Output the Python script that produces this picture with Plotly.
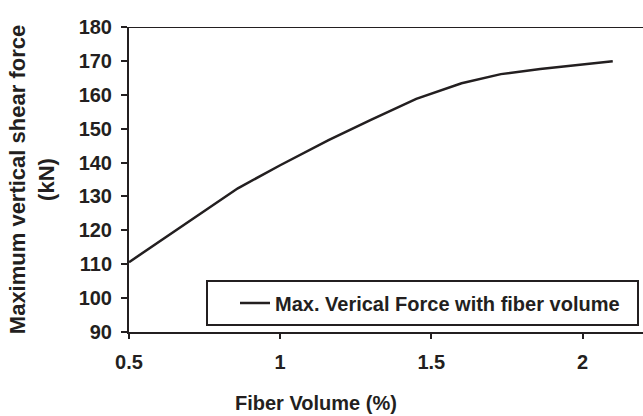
import plotly.graph_objects as go

fiber_volume = [0.5, 0.76, 0.86, 1.0, 1.16, 1.3, 1.45, 1.6, 1.73, 1.86, 2.1]
max_force = [110.6, 126.5, 132.4, 139.2, 146.6, 152.6, 158.8, 163.4, 166.1, 167.6, 169.9]

series_name = "Max. Verical Force with fiber volume"
x_ticks = [0.5, 1, 1.5, 2]
y_ticks = [90, 100, 110, 120, 130, 140, 150, 160, 170, 180]

ink = "#231f20"
font_family = "Liberation Sans, Arial, sans-serif"

W, H = 643, 416
L, R, T, B = 129, 0, 27, 84
pw, ph = W - L - R, H - T - B


def px_x(v):
    return (v - L) / pw


def px_y(v):
    return (H - B - v) / ph


fig = go.Figure()
fig.add_trace(go.Scatter(x=fiber_volume, y=max_force, mode="lines", name=series_name,
                         line=dict(color=ink, width=2.5)))

fig.update_layout(
    width=W, height=H,
    margin=dict(l=L, r=R, t=T, b=B),
    paper_bgcolor="white", plot_bgcolor="white",
    font=dict(family=font_family, color=ink, size=20),
    showlegend=True,
    legend=dict(x=px_x(235), y=px_y(303), xanchor="left", yanchor="middle",
                borderwidth=0, bgcolor="rgba(0,0,0,0)",
                font=dict(size=20, family=font_family, color=ink, weight="bold")),
    xaxis=dict(range=[0.5, 2.2], tickvals=x_ticks, ticktext=[str(v) for v in x_ticks],
               showgrid=False, zeroline=False, showline=True, linecolor=ink, linewidth=2,
               ticks="outside", ticklen=5, tickwidth=1.5, tickcolor=ink,
               ticklabelstandoff=6,
               tickfont=dict(size=20, weight="bold")),
    yaxis=dict(range=[90, 180], tickvals=y_ticks, showgrid=False, zeroline=False,
               showline=True, linecolor=ink, linewidth=2,
               ticks="outside", ticklen=6, tickwidth=1.5, tickcolor=ink,
               ticklabelstandoff=5,
               tickfont=dict(size=20, weight="bold"),
               title=dict(text="Maximum vertical shear force<br>(kN)", standoff=18,
                          font=dict(size=22, weight="bold"))),
)
fig.add_shape(type="line", xref="paper", yref="y", x0=0, x1=1, y0=180, y1=180,
              line=dict(color=ink, width=2))
fig.add_shape(type="rect", xref="paper", yref="paper",
              x0=px_x(207), x1=px_x(638), y0=px_y(325), y1=px_y(281),
              line=dict(color=ink, width=2), fillcolor="white", layer="below")
fig.add_annotation(text="Fiber Volume (%)", xref="paper", yref="paper",
                   x=px_x(316), y=px_y(403), showarrow=False,
                   xanchor="center", yanchor="middle",
                   font=dict(size=20, weight="bold", color=ink))

fig.write_html("out.html")
